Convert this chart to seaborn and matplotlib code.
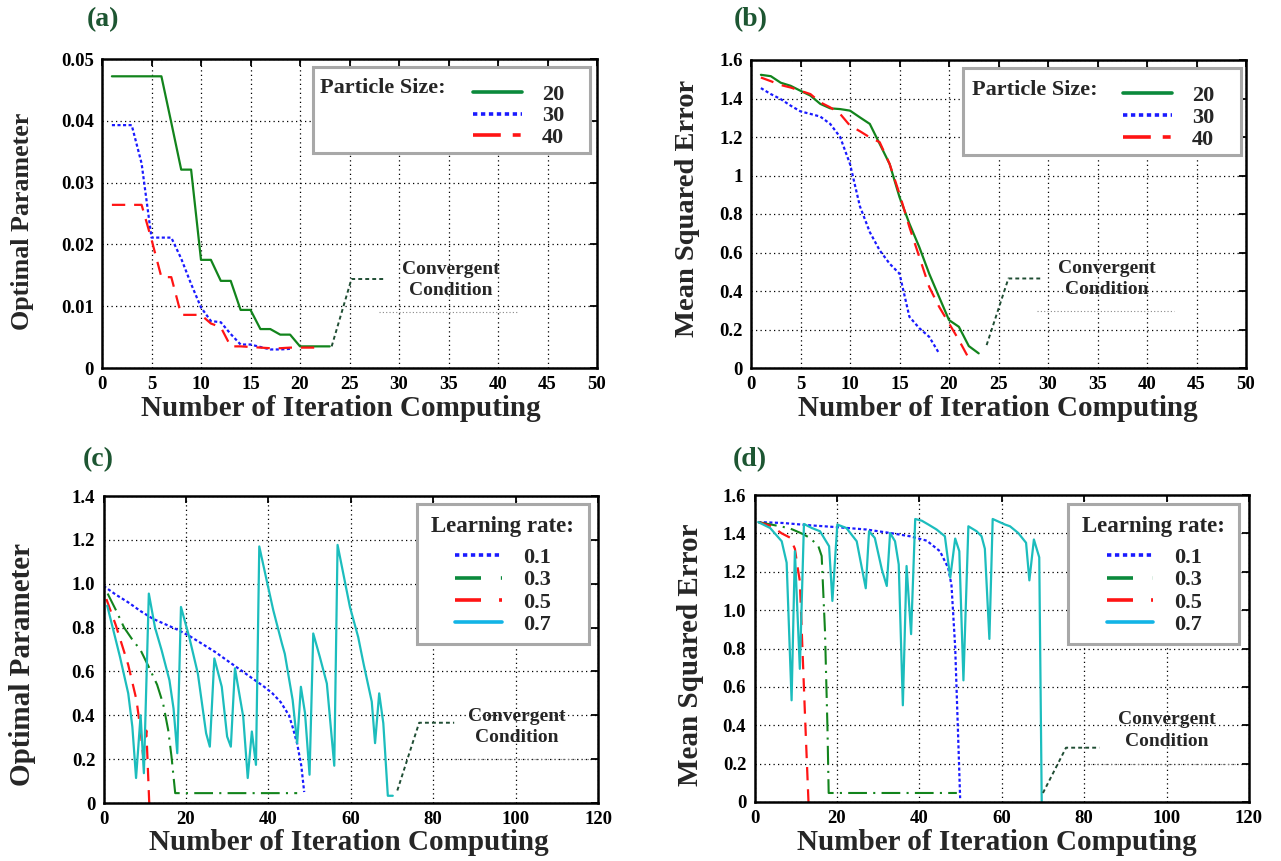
import numpy as np
import pandas as pd
import matplotlib
matplotlib.use("Agg")
import matplotlib.pyplot as plt
from matplotlib.lines import Line2D
from matplotlib.patches import Rectangle
import seaborn as sns

# ---------------- data ----------------
# (a) optimal parameter vs iterations, particle sizes
a_x20 = list(range(1, 24))
a_y20 = [0.0472, 0.0472, 0.0472, 0.0472, 0.0472, 0.0472, 0.0397, 0.0321, 0.0321, 0.0175,
         0.0175, 0.0141, 0.0141, 0.0094, 0.0094, 0.0063, 0.0063, 0.0054, 0.0054, 0.0035,
         0.0035, 0.0035, 0.0035]
a_x30 = list(range(1, 20))
a_y30 = [0.0393, 0.0393, 0.0393, 0.0331, 0.0211, 0.0211, 0.0211, 0.0177, 0.0136, 0.0098,
         0.0076, 0.0074, 0.0055, 0.0038, 0.0038, 0.0034, 0.0030, 0.0030, 0.0031]
a_x40 = list(range(1, 23))
a_y40 = [0.0264, 0.0264, 0.0264, 0.0264, 0.0208, 0.0147, 0.0147, 0.0086, 0.0086, 0.0086,
         0.0072, 0.0066, 0.0035, 0.0035, 0.0034, 0.0033, 0.0032, 0.0032, 0.0033, 0.0033,
         0.0033, 0.0033]

# (b) mean squared error vs iterations, particle sizes
b_x20 = list(range(1, 24))
b_y20 = [1.523, 1.516, 1.482, 1.466, 1.440, 1.415, 1.372, 1.349, 1.345, 1.337, 1.302, 1.268,
         1.164, 1.060, 0.888, 0.750, 0.628, 0.490, 0.369, 0.249, 0.214, 0.114, 0.076]
b_x30 = list(range(1, 20))
b_y30 = [1.454, 1.423, 1.397, 1.363, 1.333, 1.320, 1.306, 1.268, 1.200, 1.060, 0.840, 0.706,
         0.611, 0.542, 0.490, 0.266, 0.207, 0.162, 0.076]
b_x40 = list(range(1, 23))
b_y40 = [1.509, 1.490, 1.470, 1.457, 1.440, 1.423, 1.380, 1.354, 1.320, 1.259, 1.230, 1.198,
         1.173, 1.060, 0.905, 0.732, 0.577, 0.421, 0.318, 0.232, 0.145, 0.050]

# (c) optimal parameter vs iterations, learning rates
c_x01 = [0, 3, 6, 9, 12, 15, 18, 21, 24, 27, 30, 33, 36, 39, 41, 43, 45, 46, 47, 48, 48.7]
c_y01 = [0.99, 0.95, 0.915, 0.875, 0.84, 0.815, 0.79, 0.76, 0.725, 0.69, 0.65, 0.61, 0.57,
         0.53, 0.50, 0.46, 0.40, 0.34, 0.27, 0.17, 0.05]
c_x03 = [1, 3, 5, 7, 9, 11, 13, 14.5, 15.7, 16.5, 17.4, 47]
c_y03 = [0.955, 0.88, 0.80, 0.745, 0.697, 0.62, 0.54, 0.45, 0.333, 0.212, 0.045, 0.045]
c_x05 = [0.7, 3, 6, 8, 9, 9.6, 10.4, 11.1]
c_y05 = [0.93, 0.81, 0.63, 0.47, 0.33, 0.22, 0.33, 0.0]
c_x07 = [0.9, 2.8, 4.0, 6.0, 7.0, 7.9, 9.0, 9.8, 11.0, 12.5, 14.1, 16.0, 17.0, 17.9, 18.8,
         20.8, 22.9, 24.9, 25.8, 26.9, 28.7, 30.0, 30.9, 31.9, 33.9, 35.0, 36.0, 37.0, 37.8,
         39.6, 41.2, 43.3, 44.0, 45.9, 47.0, 47.9, 48.9, 50.0, 50.9, 52.5, 54.2, 56.0, 56.8,
         59.8, 61.8, 63.1, 65.1, 65.9, 66.9, 67.9, 69.0, 70.2]
c_y07 = [0.90, 0.757, 0.666, 0.50, 0.348, 0.114, 0.40, 0.136, 0.955, 0.80, 0.697, 0.56, 0.43,
         0.227, 0.894, 0.757, 0.59, 0.318, 0.257, 0.659, 0.53, 0.303, 0.257, 0.614, 0.394,
         0.114, 0.326, 0.174, 1.17, 1.015, 0.879, 0.727, 0.68, 0.47, 0.273, 0.53, 0.41, 0.129,
         0.773, 0.666, 0.545, 0.17, 1.177, 0.894, 0.757, 0.636, 0.462, 0.273, 0.50, 0.364,
         0.033, 0.033]

# (d) mean squared error vs iterations, learning rates
d_x01 = [0.9, 7, 13.5, 19.6, 27.2, 32.9, 37.7, 41.8, 45.0, 47.0, 47.8, 48.7, 49.5, 49.9]
d_y01 = [1.459, 1.454, 1.442, 1.433, 1.42, 1.402, 1.385, 1.362, 1.307, 1.22, 1.13, 0.806,
         0.288, 0.02]
d_x03 = [0.9, 6.2, 8.6, 11.4, 13.5, 15.5, 16.3, 17.1, 17.7, 18.0, 49.1]
d_y03 = [1.459, 1.437, 1.426, 1.40, 1.376, 1.333, 1.282, 0.893, 0.392, 0.047, 0.047]
d_x05 = [0.9, 4.2, 6.6, 8.6, 9.8, 10.6, 11.0, 12.3, 13.1]
d_y05 = [1.459, 1.437, 1.40, 1.378, 1.32, 1.204, 1.152, 0.426, 0.0]
d_x07 = [0.9, 3.8, 6.6, 7.8, 9.0, 9.8, 11.0, 12.0, 13.9, 15.9, 18.1, 18.9, 20.1, 22.3, 24.8,
         27.0, 27.8, 29.2, 30.9, 32.1, 32.9, 34.1, 35.0, 36.0, 36.9, 38.0, 39.0, 40.6, 42.2,
         44.2, 46.2, 47.5, 48.7, 49.7, 50.7, 51.9, 53.9, 55.1, 55.9, 57.0, 57.8, 60.8, 62.0,
         64.0, 65.9, 66.7, 67.8, 69.1, 69.7]
d_y07 = [1.459, 1.428, 1.359, 1.247, 0.53, 1.307, 0.694, 1.449, 1.428, 1.411, 1.333, 1.048,
         1.446, 1.428, 1.359, 1.114, 1.411, 1.376, 1.212, 1.126, 1.402, 1.359, 1.238, 0.504,
         1.23, 0.875, 1.475, 1.466, 1.446, 1.42, 1.385, 1.169, 1.373, 1.307, 0.634, 1.437,
         1.411, 1.385, 1.32, 0.85, 1.475, 1.446, 1.437, 1.402, 1.351, 1.155, 1.368, 1.275, 0.0]

# convergence annotation guide lines (x, y)
a_conv_x = [23.2, 25.2, 28.7]
a_conv_y = [0.0035, 0.0144, 0.0144]
b_conv_x = [23.8, 26.0, 29.5]
b_conv_y = [0.119, 0.465, 0.465]
c_conv_x = [71.3, 76.6, 85.1]
c_conv_y = [0.057, 0.366, 0.366]
d_conv_x = [70.0, 75.6, 83.7]
d_conv_y = [0.047, 0.283, 0.283]

ps_labels = ["20", "30", "40"]
lr_labels = ["0.1", "0.3", "0.5", "0.7"]
xticks_ab = [0, 5, 10, 15, 20, 25, 30, 35, 40, 45, 50]
xticks_cd = [0, 20, 40, 60, 80, 100, 120]
yticks_a = [0, 0.01, 0.02, 0.03, 0.04, 0.05]
ylabels_a = ["0", "0.01", "0.02", "0.03", "0.04", "0.05"]
yticks_b = [0, 0.2, 0.4, 0.6, 0.8, 1.0, 1.2, 1.4, 1.6]
ylabels_b = ["0", "0.2", "0.4", "0.6", "0.8", "1", "1.2", "1.4", "1.6"]
yticks_c = [0, 0.2, 0.4, 0.6, 0.8, 1.0, 1.2, 1.4]
ylabels_c = ["0", "0.2", "0.4", "0.6", "0.8", "1.0", "1.2", "1.4"]
yticks_d = [0, 0.2, 0.4, 0.6, 0.8, 1.0, 1.2, 1.4, 1.6]
ylabels_d = ["0", "0.2", "0.4", "0.6", "0.8", "1.0", "1.2", "1.4", "1.6"]

# ---------------- style ----------------
sns.set_style("white")
plt.rcParams['font.family'] = ['Liberation Serif', 'DejaVu Serif']
plt.rcParams['font.weight'] = 'bold'
plt.rcParams['axes.labelweight'] = 'bold'

GREEN = "#12841c"
BLUE = "#1a1aff"
RED = "#ff1414"
CYAN = "#1cbdbd"
CYAN_LEG = "#12b4e6"
GREEN_LEG = "#0b8a3c"
CONV = "#1f4d33"
LABEL_GREEN = "#1d5632"

DOT = (0, (1.4, 1.1))
DASH = (0, (6, 4))
DASHDOT = (0, (9, 3, 1, 3))
GRID = (0, (1, 2.6))

W, H = 1281, 861
fig = plt.figure(figsize=(W / 100, H / 100), dpi=100)


def px_axes(left, top, right, bottom):
    return fig.add_axes([left / W, 1 - bottom / H, (right - left) / W, (bottom - top) / H])


axA = px_axes(102, 59, 597, 368)
axB = px_axes(751, 60, 1246, 368)
axC = px_axes(103.5, 496, 598, 803)
axD = px_axes(754.5, 495, 1249, 802)


def line(ax, x, y, color, ls, lw=1.6):
    sns.lineplot(x=x, y=y, ax=ax, color=color, linestyle=ls, linewidth=lw,
                 estimator=None, sort=False, legend=False)


def style_axes(ax, xlim, ylim, xt, yt, ytl):
    ax.set_xlim(*xlim)
    ax.set_ylim(*ylim)
    ax.set_xticks(xt)
    ax.set_xticklabels([str(v) for v in xt])
    ax.set_yticks(yt)
    ax.set_yticklabels(ytl)
    for s in ax.spines.values():
        s.set_visible(True)
        s.set_linewidth(1.8)
        s.set_color("black")
    ax.tick_params(direction="in", length=5, width=1.3, top=True, right=True,
                   labelsize=13.5, pad=6, colors="black")
    for lab in ax.get_xticklabels() + ax.get_yticklabels():
        lab.set_fontweight("bold")
    ax.grid(True, color="black", linestyle=GRID, linewidth=0.9)
    ax.set_axisbelow(True)
    ax.set_xlabel("")
    ax.set_ylabel("")


def conv(ax, xs, ys, tx, ty1, ty2, fx, fy):
    line(ax, xs, ys, CONV, (0, (2, 1.6)), lw=1.4)
    ax.text(tx, ty1, "Convergent", ha="center", va="center", fontsize=14,
            fontweight="bold", zorder=6)
    ax.text(tx, ty2, "Condition", ha="center", va="center", fontsize=14,
            fontweight="bold", zorder=6)
    ax.plot(fx, fy, color="#888888", linestyle=(0, (1, 2)), linewidth=0.8)


def legend_box(ax, x0, y0, w, h):
    ax.add_patch(Rectangle((x0, y0), w, h, transform=ax.transAxes, facecolor="white",
                           edgecolor="#a8a8a8", linewidth=2.2, zorder=4))


# ---- (a)
line(axA, a_x20, a_y20, GREEN, "-")
line(axA, a_x30, a_y30, BLUE, DOT)
line(axA, a_x40, a_y40, RED, DASH)
style_axes(axA, (0, 50), (0, 0.05), xticks_ab, yticks_a, ylabels_a)
conv(axA, a_conv_x, a_conv_y, 35.2, 0.0160, 0.0126, [28, 42], [0.0091, 0.0091])

# ---- (b)
line(axB, b_x20, b_y20, GREEN, "-")
line(axB, b_x30, b_y30, BLUE, DOT)
line(axB, b_x40, b_y40, RED, DASH)
style_axes(axB, (0, 50), (0, 1.6), xticks_ab, yticks_b, ylabels_b)
conv(axB, b_conv_x, b_conv_y, 35.9, 0.517, 0.408, [28.9, 42.7], [0.297, 0.297])

# ---- (c)
line(axC, c_x01, c_y01, BLUE, DOT)
line(axC, c_x03, c_y03, GREEN, DASHDOT, lw=1.5)
line(axC, c_x05, c_y05, RED, DASH)
line(axC, c_x07, c_y07, CYAN, "-")
style_axes(axC, (0, 120), (0, 1.4), xticks_cd, yticks_c, ylabels_c)
conv(axC, c_conv_x, c_conv_y, 100.3, 0.394, 0.298, [85, 118], [0.2, 0.2])

# ---- (d)
line(axD, d_x01, d_y01, BLUE, DOT)
line(axD, d_x03, d_y03, GREEN, DASHDOT, lw=1.5)
line(axD, d_x05, d_y05, RED, DASH)
line(axD, d_x07, d_y07, CYAN, "-")
style_axes(axD, (0, 120), (0, 1.6), xticks_cd, yticks_d, ylabels_d)
conv(axD, d_conv_x, d_conv_y, 100.0, 0.430, 0.314, [80, 118], [0.2, 0.2])

# ---- legends
ps_handles = [Line2D([], [], color=GREEN_LEG, lw=2.6, linestyle="-"),
              Line2D([], [], color=BLUE, lw=2.6, linestyle=(0, (1.2, 1.0))),
              Line2D([], [], color=RED, lw=2.6, linestyle=(0, (7.7, 3.3, 2.2, 10)))]
lr_handles = [Line2D([], [], color=BLUE, lw=2.6, linestyle=(0, (1.2, 1.0))),
              Line2D([], [], color=GREEN_LEG, lw=2.6, linestyle=(0, (7.2, 5.5, 0.6, 10))),
              Line2D([], [], color=RED, lw=2.6, linestyle=(0, (7.2, 5.0, 2.0, 10))),
              Line2D([], [], color=CYAN_LEG, lw=2.6, linestyle="-")]

for ax, box, title_xy, anchor, lsp in [
        (axA, (0.4257, 0.695, 0.5603, 0.28), (0.4404, 0.906), (0.7495, 0.917), 0.03),
        (axB, (0.429, 0.692, 0.561, 0.281), (0.4465, 0.903), (0.752, 0.918), 0.07)]:
    legend_box(ax, *box)
    ax.text(*title_xy, "Particle Size:", transform=ax.transAxes, ha="left", va="center",
            fontsize=16, fontweight="bold", zorder=6)
    leg = ax.legend(ps_handles, ps_labels, loc="upper left", bbox_to_anchor=anchor,
                    frameon=False, fontsize=16, handlelength=2.2, handletextpad=0.9,
                    labelspacing=lsp, borderpad=0, borderaxespad=0)
    leg.set_zorder(6)
    for t in leg.get_texts():
        t.set_fontweight("bold")

for ax, box, title_xy, anchor in [
        (axC, (0.6346, 0.518, 0.3466, 0.456), (0.806, 0.900), (0.7108, 0.832)),
        (axD, (0.6346, 0.515, 0.3458, 0.456), (0.8075, 0.8967), (0.7122, 0.829))]:
    legend_box(ax, *box)
    ax.text(*title_xy, "Learning rate:", transform=ax.transAxes, ha="center", va="center",
            fontsize=16.5, fontweight="bold", zorder=6)
    leg = ax.legend(lr_handles, lr_labels, loc="upper left", bbox_to_anchor=anchor,
                    frameon=False, fontsize=16, handlelength=2.1, handletextpad=0.95,
                    labelspacing=0.08, borderpad=0, borderaxespad=0)
    leg.set_zorder(6)
    for t in leg.get_texts():
        t.set_fontweight("bold")

# ---- axis labels & panel labels
XL = "Number of Iteration Computing"
for x, y in [(341, 408), (998, 408), (349, 843), (997, 843)]:
    fig.text(x / W, 1 - y / H, XL, ha="center", va="center", fontsize=21, fontweight="bold")
for x, y, s, fs in [(22, 221, "Optimal Parameter", 18.7), (688, 208, "Mean Squared Error", 20.5),
                    (22, 664, "Optimal Parameter", 21), (690, 655, "Mean Squared Error", 21)]:
    fig.text(x / W, 1 - y / H, s, ha="center", va="center", rotation=90, fontsize=fs,
             fontweight="bold")
for x, y, s in [(103, 20, "(a)"), (751, 20, "(b)"), (98, 460, "(c)"), (750, 460, "(d)")]:
    fig.text(x / W, 1 - y / H, s, ha="center", va="center", fontsize=20,
             fontweight="bold", color=LABEL_GREEN)

fig.savefig("out.png", dpi=100)
